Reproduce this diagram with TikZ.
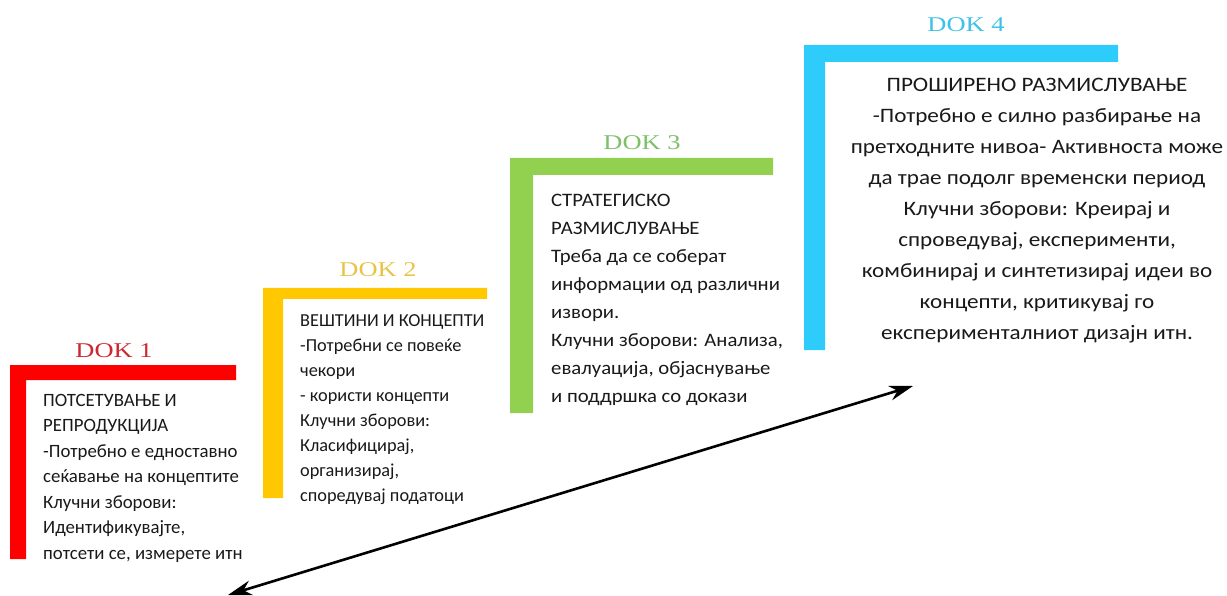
\documentclass[tikz,border=0pt]{standalone}
\usepackage{fontspec}
\setmainfont{Carlito}
\newfontfamily\dokfont{Liberation Serif}[FakeStretch=1.26]
\newfontfamily\greenfont{Carlito}[FakeStretch=1.09]
\newfontfamily\bluefont{Carlito}[FakeStretch=1.13]
\usetikzlibrary{arrows.meta}
\definecolor{cred}{RGB}{255,0,0}
\definecolor{cyel}{RGB}{255,200,0}
\definecolor{cgrn}{RGB}{146,208,80}
\definecolor{cblu}{RGB}{46,204,250}
\definecolor{tred}{RGB}{205,40,50}
\definecolor{tyel}{RGB}{232,196,70}
\definecolor{tgrn}{RGB}{125,192,105}
\definecolor{tblu}{RGB}{60,194,232}
\definecolor{body}{RGB}{25,25,25}
\tikzset{
  doklabel/.style={font=\dokfont\fontsize{21}{24}\selectfont, inner sep=0pt, anchor=base},
  bodytext/.style={text=body, inner sep=0pt, anchor=north west, align=left},
  arrowline/.style={line width=2.6pt, {Stealth[length=24pt,width=15pt]}-{Stealth[length=24pt,width=15pt]}}
}
\begin{document}
\begin{tikzpicture}[x=1pt,y=-1pt]
\useasboundingbox (0,0) rectangle (1227,596);
% L shapes
\fill[cred] (10,365) -- (236,365) -- (236,380) -- (26,380) -- (26,559) -- (10,559) -- cycle;
\fill[cyel] (263,288) -- (487,288) -- (487,299) -- (283,299) -- (283,498) -- (263,498) -- cycle;
\fill[cgrn] (510,158) -- (773,158) -- (773,175) -- (533,175) -- (533,413) -- (510,413) -- cycle;
\fill[cblu] (804,45) -- (1118,45) -- (1118,62) -- (825,62) -- (825,350) -- (804,350) -- cycle;
% labels
\node[doklabel, text=tred] (d1) at (114,357) {DOK 1};
\node[doklabel, text=tyel] (d2) at (378,277) {DOK 2};
\node[doklabel, text=tgrn] (d3) at (642,150) {DOK 3};
\node[doklabel, text=tblu] (d4) at (966,32) {DOK 4};
% texts
\node[bodytext, font=\fontsize{18.8}{25.5}\selectfont] (t1) at (43,394) {ПОТСЕТУВАЊЕ И\\РЕПРОДУКЦИЈА\\-Потребно е едноставно\\сеќавање на концептите\\Клучни зборови:\\Идентификувајте,\\потсети се, измерете итн};
\node[bodytext, font=\fontsize{18.3}{25}\selectfont] (t2) at (300,314) {ВЕШТИНИ И КОНЦЕПТИ\\-Потребни се повеќе\\чекори\\- користи концепти\\Клучни зборови:\\Класифицирај,\\организирај,\\споредувај податоци};
\node[bodytext, font=\greenfont\fontsize{19}{28}\selectfont] (t3) at (551,194) {СТРАТЕГИСКО\\РАЗМИСЛУВАЊЕ\\Треба да се соберат\\информации од различни\\извори.\\Клучни зборови: Анализа,\\евалуација, објаснување\\и поддршка со докази};
\node[bodytext, anchor=north, align=center, font=\bluefont\fontsize{20.5}{31}\selectfont] (t4) at (1037,78) {ПРОШИРЕНО РАЗМИСЛУВАЊЕ\\-Потребно е силно разбирање на\\претходните нивоа- Активноста може\\да трае подолг временски период\\Клучни зборови: Креирај и\\спроведувај, експерименти,\\комбинирај и синтетизирај идеи во\\концепти, критикувај го\\експерименталниот дизајн итн.};
% arrow
\coordinate (a1) at (228,595);
\coordinate (a2) at (913,386);
\draw[arrowline] (a1) -- (a2);
\end{tikzpicture}
\end{document}
